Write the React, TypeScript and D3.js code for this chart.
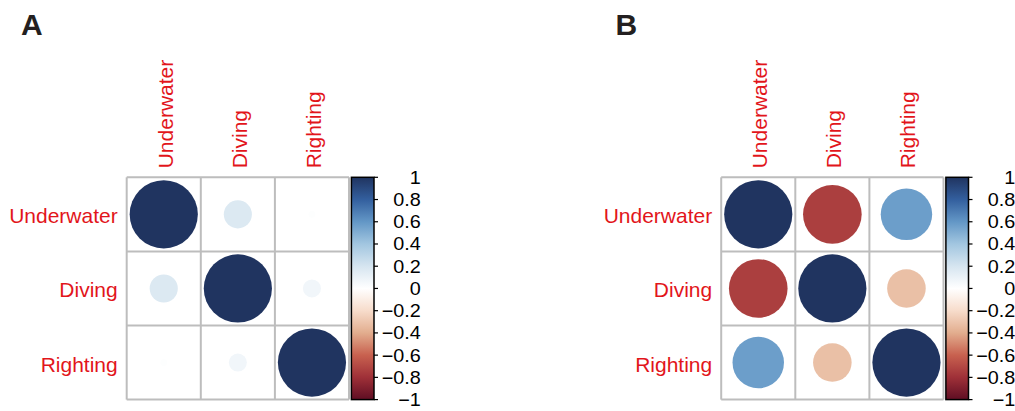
import React from 'react';
import * as d3 from 'd3';

// variables shown on both axes
const variables = ['Underwater', 'Diving', 'Righting'];

// correlation matrices
const corrA = [
  [1, 0.17, 0.01],
  [0.17, 1, 0.07],
  [0.01, 0.07, 1],
];
const corrB = [
  [1, -0.74, 0.57],
  [-0.74, 1, -0.32],
  [0.57, -0.32, 1],
];

// colour legend ticks
const legendTicks = [-1, -0.8, -0.6, -0.4, -0.2, 0, 0.2, 0.4, 0.6, 0.8, 1];

// RdBu palette (as rendered in the figure)
const paletteValues = [-1, -0.8, -0.6, -0.4, -0.2, 0, 0.2, 0.4, 0.6, 0.8, 1];
const paletteColors = [
  '#5f0e23', '#9f3038', '#c8614f', '#e2ad8e', '#f7dccb', '#ffffff',
  '#d6e5f0', '#a2c6e0', '#6397c6', '#335f9e', '#203460',
];

const FONT = '"Liberation Sans", Arial, Helvetica, sans-serif';
const LABEL_RED = '#e2151b';

const color = d3.scaleLinear<string>()
  .domain(paletteValues)
  .range(paletteColors)
  .interpolate(d3.interpolateRgb);

const fmt = d3.format('~g');

type PanelProps = { letter: string; matrix: number[][]; dx: number; id: string };

const CorrPanel = ({ letter, matrix, dx, id }: PanelProps) => {
  const gridLeft = 126.7 + dx;
  const gridTop = 177.3;
  const size = 222.3;

  const x = d3.scaleBand().domain(variables).range([gridLeft, gridLeft + size]);
  const y = d3.scaleBand().domain(variables).range([gridTop, gridTop + size]);
  const r = d3.scaleSqrt().domain([0, 1]).range([0, x.bandwidth() * 0.46]);

  // colour bar
  const barX = gridLeft + size + 2.4;
  const barW = 22.6;
  const legendY = d3.scaleLinear().domain([-1, 1]).range([gridTop + size, gridTop]);

  const cells = matrix.flatMap((row, i) =>
    row.map((v, j) => ({ row: variables[i], col: variables[j], v }))
  );

  return (
    <g>
      <text x={21 + dx} y={35} fontFamily={FONT} fontWeight="bold" fontSize={30} fill="#231f20">
        {letter}
      </text>

      <rect x={gridLeft} y={gridTop} width={size} height={size} fill="#fff" />

      {/* circles */}
      {cells.map((c, k) => (
        <circle
          key={k}
          cx={x(c.col)! + x.bandwidth() / 2}
          cy={y(c.row)! + y.bandwidth() / 2}
          r={r(Math.abs(c.v))}
          fill={color(c.v)}
        />
      ))}

      {/* grid lines */}
      {d3.range(variables.length + 1).map((k) => {
        const p = gridLeft + k * x.bandwidth();
        const q = gridTop + k * y.bandwidth();
        return (
          <g key={k} stroke="#bdbdbd" strokeWidth={2}>
            <line x1={p} x2={p} y1={gridTop} y2={gridTop + size} />
            <line x1={gridLeft} x2={gridLeft + size} y1={q} y2={q} />
          </g>
        );
      })}

      {/* row labels */}
      {variables.map((v) => (
        <text
          key={'r' + v}
          transform={`translate(${gridLeft - 9},${y(v)! + y.bandwidth() / 2 + 9}) scale(1.05,1)`}
          textAnchor="end"
          fontFamily={FONT}
          fontSize={20}
          fill={LABEL_RED}
        >
          {v}
        </text>
      ))}

      {/* column labels */}
      {variables.map((v) => (
        <text
          key={'c' + v}
          transform={`translate(${x(v)! + x.bandwidth() / 2 + 9},${gridTop - 9}) rotate(-90) scale(1.05,1)`}
          textAnchor="start"
          fontFamily={FONT}
          fontSize={20}
          fill={LABEL_RED}
        >
          {v}
        </text>
      ))}

      {/* colour legend */}
      <defs>
        <linearGradient id={id} x1="0" y1="1" x2="0" y2="0">
          {paletteValues.map((v, k) => (
            <stop key={k} offset={(v + 1) / 2} stopColor={paletteColors[k]} />
          ))}
        </linearGradient>
      </defs>
      <rect
        x={barX}
        y={gridTop}
        width={barW}
        height={size}
        fill={`url(#${id})`}
        stroke="#000"
        strokeWidth={1.5}
      />
      {legendTicks.map((t) => (
        <g key={t}>
          <line
            x1={barX + barW}
            x2={barX + barW + 4}
            y1={legendY(t)}
            y2={legendY(t)}
            stroke="#000"
            strokeWidth={1.2}
          />
          <text
            transform={`translate(${barX + barW + 46.7},${legendY(t)}) scale(1.1,1)`}
            dy="0.36em"
            textAnchor="end"
            fontFamily={FONT}
            fontSize={18}
            fill="#000"
          >
            {fmt(t)}
          </text>
        </g>
      ))}
    </g>
  );
};

export default function App() {
  return (
    <svg
      width={1015}
      height={411}
      style={{ position: 'absolute', left: 0, top: 0, background: '#fff' }}
    >
      <rect width={1015} height={411} fill="#fff" />
      <CorrPanel letter="A" matrix={corrA} dx={0} id="gradA" />
      <CorrPanel letter="B" matrix={corrB} dx={594.5} id="gradB" />
    </svg>
  );
}
